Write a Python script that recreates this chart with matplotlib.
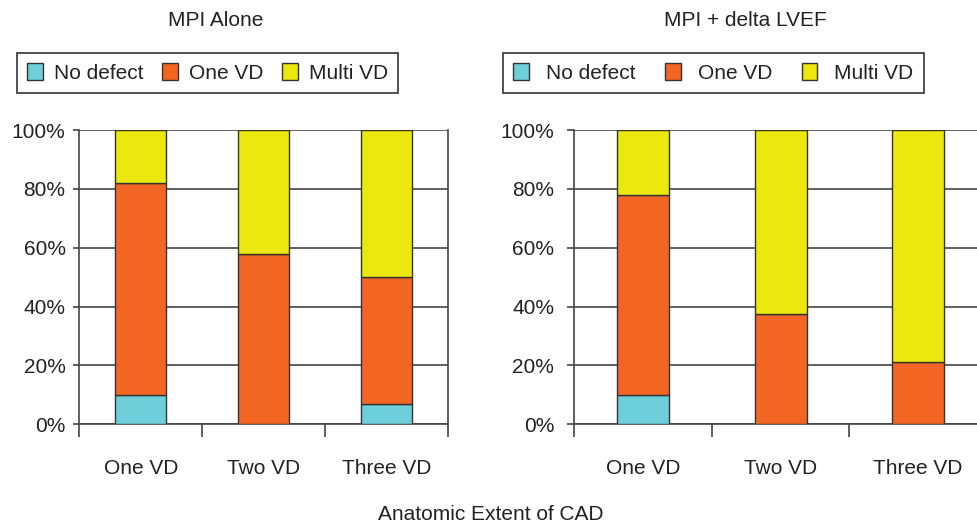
import matplotlib
matplotlib.use("Agg")
import matplotlib.pyplot as plt
from matplotlib.ticker import FixedLocator, NullFormatter, FixedFormatter
import numpy as np

plt.rcParams['font.family'] = ['Liberation Sans', 'DejaVu Sans']

categories = ["One VD", "Two VD", "Three VD"]
series_names = ["No defect", "One VD", "Multi VD"]
colors = ["#6ECED9", "#F26522", "#ECE70C"]

# Percent of patients in each detected-extent group
mpi_no_defect = [10, 0, 7]
mpi_one_vd = [72, 58, 43]
mpi_multi_vd = [18, 42, 50]

lvef_no_defect = [10, 0, 0]
lvef_one_vd = [68, 37.5, 21]
lvef_multi_vd = [22, 62.5, 79]

y_ticks = [0, 20, 40, 60, 80, 100]
y_tick_labels = ["0%", "20%", "40%", "60%", "80%", "100%"]

W, H = 978, 528
fig = plt.figure(figsize=(W / 100, H / 100), dpi=100)

text_color = "#222222"
line_color = "#444444"
FS = 15


def px_axes(x0, x1, ytop, ybot):
    return fig.add_axes([x0 / W, 1 - ybot / H, (x1 - x0) / W, (ybot - ytop) / H])


def draw_panel(ax, stacks, bar_width, ytick_len, ytick_pad):
    x = np.arange(len(categories))
    bottom = np.zeros(len(categories))
    handles = []
    for vals, col, name in zip(stacks, colors, series_names):
        vals = np.asarray(vals, dtype=float)
        b = ax.bar(x, vals, bar_width, bottom=bottom, color=col,
                   edgecolor="#333333", linewidth=1.0, label=name, zorder=3)
        handles.append(b)
        bottom += vals
    ax.set_xlim(-0.5, 2.5)
    ax.set_ylim(0, 100)
    ax.yaxis.set_major_locator(FixedLocator(y_ticks))
    ax.yaxis.set_major_formatter(FixedFormatter(y_tick_labels))
    ax.xaxis.set_major_locator(FixedLocator([-0.5, 0.5, 1.5, 2.5]))
    ax.xaxis.set_major_formatter(NullFormatter())
    ax.xaxis.set_minor_locator(FixedLocator(list(x)))
    ax.xaxis.set_minor_formatter(FixedFormatter(categories))
    ax.tick_params(axis="x", which="major", direction="out", length=9,
                   width=1.2, color=line_color)
    ax.tick_params(axis="x", which="minor", length=0, pad=25,
                   labelsize=FS, labelcolor=text_color)
    ax.tick_params(axis="y", direction="out", length=ytick_len, width=1.2,
                   color=line_color, pad=ytick_pad, labelsize=FS,
                   labelcolor=text_color)
    ax.grid(axis="y", color=line_color, linewidth=1.2, zorder=1)
    ax.set_axisbelow(True)
    for side in ["left", "right", "bottom"]:
        ax.spines[side].set_color(line_color)
        ax.spines[side].set_linewidth(1.2)
    ax.spines["top"].set_visible(False)
    return handles


ax1 = px_axes(79.3, 447.7, 130, 424.3)
h1 = draw_panel(ax1, [mpi_no_defect, mpi_one_vd, mpi_multi_vd], 0.42, 4.5, 5.4)

ax2 = px_axes(574.3, 986.8, 130, 424.3)
h2 = draw_panel(ax2, [lvef_no_defect, lvef_one_vd, lvef_multi_vd], 0.378, 5.4, 9.2)

leg_kw = dict(ncol=3, loc="upper left", bbox_transform=fig.transFigure,
              borderaxespad=0, fancybox=False, fontsize=FS,
              handlelength=0.76, handleheight=0.86, borderpad=0.5,
              labelcolor=text_color)
leg1 = fig.legend(handles=h1, labels=series_names,
                  bbox_to_anchor=(17 / W, 1 - 52.7 / H),
                  handletextpad=0.52, columnspacing=0.9, **leg_kw)
leg2 = fig.legend(handles=h2, labels=series_names,
                  bbox_to_anchor=(502.7 / W, 1 - 52.7 / H),
                  handletextpad=0.81, columnspacing=1.42, **leg_kw)
for leg in (leg1, leg2):
    fr = leg.get_frame()
    fr.set_edgecolor("#333333")
    fr.set_linewidth(1.2)
    fr.set_alpha(1)

fig.text(216 / W, 1 - 21 / H, "MPI Alone", ha="center", va="center",
         fontsize=FS, color=text_color)
fig.text(745 / W, 1 - 21 / H, "MPI + delta LVEF", ha="center", va="center",
         fontsize=FS, color=text_color)
fig.text(491 / W, 1 - 514 / H, "Anatomic Extent of CAD", ha="center",
         va="center", fontsize=FS, color=text_color)

fig.savefig("out.png", dpi=100)
